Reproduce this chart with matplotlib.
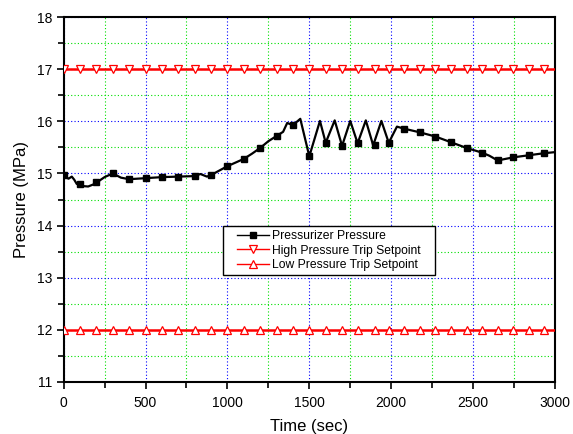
import numpy as np
import matplotlib
matplotlib.use("Agg")
import matplotlib.pyplot as plt
from matplotlib.ticker import MultipleLocator
from matplotlib.patches import Rectangle

plt.rcParams['font.family'] = ['Liberation Sans', 'DejaVu Sans']

# pressurizer pressure trace (sec, MPa)
t_curve = [0, 15, 30, 50, 65, 80, 110, 150, 190, 250, 300, 350, 400, 500, 600, 700,
           800, 835, 875, 900, 1000, 1100, 1150, 1200, 1250, 1300, 1340, 1365, 1400,
           1445, 1500, 1565, 1600, 1655, 1700, 1750, 1795, 1845, 1890, 1940, 1985,
           2035, 2080, 2175, 2270, 2365, 2460, 2555, 2600, 2650, 2745, 2840, 2935, 3000]
p_curve = [14.97, 14.93, 14.90, 14.94, 14.88, 14.80, 14.76, 14.75, 14.80, 14.93, 15.00,
           14.92, 14.89, 14.91, 14.93, 14.94, 14.95, 14.99, 14.94, 14.97, 15.14, 15.28,
           15.38, 15.49, 15.62, 15.72, 15.80, 15.97, 15.93, 16.05, 15.33, 16.01, 15.59,
           16.02, 15.53, 16.01, 15.58, 16.02, 15.54, 16.01, 15.59, 15.90, 15.86, 15.79,
           15.71, 15.60, 15.49, 15.40, 15.34, 15.25, 15.31, 15.35, 15.39, 15.41]

# symbol positions on the traces
t_mark = [0, 100, 200, 300, 400, 500, 600, 700, 800, 900, 1000, 1100, 1200, 1300, 1400,
          1500, 1600, 1700, 1800, 1900, 1985, 2080, 2175, 2270, 2365, 2460, 2555, 2650,
          2745, 2840, 2935]
p_mark = [14.97, 14.79, 14.84, 15.00, 14.89, 14.91, 14.93, 14.94, 14.95, 14.97, 15.14,
          15.28, 15.49, 15.72, 15.93, 15.33, 15.59, 15.53, 15.58, 15.54, 15.59, 15.86,
          15.79, 15.71, 15.60, 15.49, 15.40, 15.25, 15.31, 15.35, 15.39]

high_trip = 17.0
low_trip = 12.0

fig = plt.figure(figsize=(5.73, 4.34), dpi=100)
ax = fig.add_axes([0.111, 0.1205, 0.8576, 0.8396])

ax.plot(t_curve, p_curve, color='black', lw=1.6, zorder=4)
ax.plot(t_mark, p_mark, ls='none', marker='s', color='black', ms=4.6, zorder=5)

t_trip = [0, 3000]
ax.plot(t_trip, [high_trip] * 2, color='red', lw=1.8, zorder=3)
ax.plot(t_mark, [high_trip] * len(t_mark), ls='none', marker='v', ms=5.5,
        mfc='white', mec='red', mew=0.9, zorder=4)
ax.plot(t_trip, [low_trip] * 2, color='red', lw=1.8, zorder=3)
ax.plot(t_mark, [low_trip] * len(t_mark), ls='none', marker='^', ms=5.5,
        mfc='white', mec='red', mew=0.9, zorder=4)

# legend handles: line with symbol
h1, = ax.plot([], [], color='black', lw=1.0, marker='s', ms=4.6)
h2, = ax.plot([], [], color='red', lw=1.0, marker='v', ms=5.5, mfc='white', mec='red', mew=0.9)
h3, = ax.plot([], [], color='red', lw=1.0, marker='^', ms=5.5, mfc='white', mec='red', mew=0.9)
leg = ax.legend([h1, h2, h3],
                ['Pressurizer Pressure', 'High Pressure Trip Setpoint', 'Low Pressure Trip Setpoint'],
                loc='upper left', bbox_to_anchor=(0.352, 0.416), fontsize=8.7,
                frameon=False, borderpad=0.0, labelspacing=0.2, handlelength=2.7,
                handletextpad=0.25, borderaxespad=0)
leg.set_zorder(6)

ax.set_xlim(0, 3000)
ax.set_ylim(11, 18)
ax.xaxis.set_major_locator(MultipleLocator(500))
ax.xaxis.set_minor_locator(MultipleLocator(250))
ax.yaxis.set_major_locator(MultipleLocator(1))
ax.yaxis.set_minor_locator(MultipleLocator(0.5))

ax.grid(which='major', color='blue', ls=(0, (1, 2)), lw=0.8)
ax.grid(which='minor', color='#00e000', ls=(0, (1, 2)), lw=0.8)
ax.set_axisbelow(True)

ax.tick_params(which='both', direction='out', top=False, right=False,
               labelsize=10, width=1.2)
ax.tick_params(axis='x', pad=5)
ax.tick_params(axis='y', pad=3)
ax.tick_params(which='major', length=5)
ax.tick_params(which='minor', length=4)
for s in ax.spines.values():
    s.set_linewidth(1.5)

ax.set_xlabel('Time (sec)', fontsize=12, labelpad=7)
ax.set_ylabel('Pressure (MPa)', fontsize=12, labelpad=6)

# boxed legend frame with wider side margins
fig.canvas.draw()
bb = leg.get_window_extent().transformed(fig.transFigure.inverted())
px, py = 14 / 573, 4 / 434
frame = Rectangle((bb.x0 - px, bb.y0 - py), bb.width + 2 * px, bb.height + 2 * py,
                  transform=fig.transFigure, facecolor='white', edgecolor='black',
                  lw=1.0, zorder=5)
ax.add_artist(frame)

fig.savefig('out.png', dpi=100)
